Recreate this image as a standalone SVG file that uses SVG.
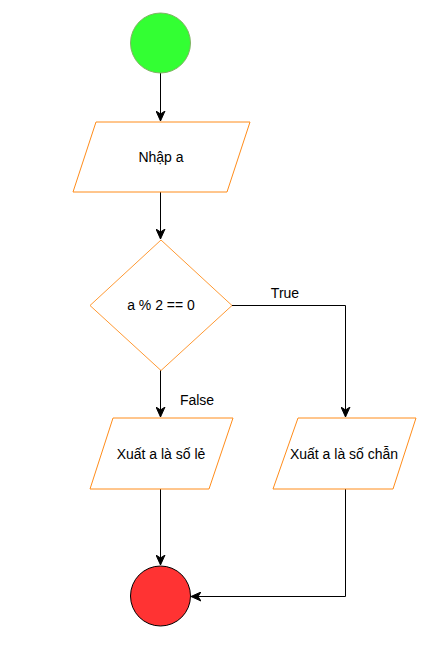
<svg xmlns="http://www.w3.org/2000/svg" width="448" height="648" viewBox="0 0 448 648">
<style>
  .io { fill: #ffffff; stroke: #ff8c1a; stroke-width: 1; }
  .dec { fill: #ffffff; stroke: #ff9933; stroke-width: 1; }
  .lbl { font-family: "Liberation Sans", Arial, sans-serif; font-size: 14px; fill: #000000; text-anchor: middle; dominant-baseline: central; }
  .edge { fill: none; stroke: #000000; stroke-width: 1; marker-end: url(#arr); }
</style>
<defs>
  <marker id="arr" markerUnits="userSpaceOnUse" markerWidth="12" markerHeight="10" refX="10" refY="5" orient="auto">
    <path d="M0,0.5 L10,5 L0,9.5 L3,5 Z" fill="#000000" stroke="#000000" stroke-width="1"/>
  </marker>
</defs>
<rect width="448" height="648" fill="#ffffff"/>
<g id="connectors">
  <path class="edge" d="M160.5,73 L160.5,121"/>
  <path class="edge" d="M160.5,192 L160.5,239"/>
  <path class="edge" d="M232,305.5 L345.5,305.5 L345.5,417"/>
  <path class="edge" d="M160.5,370 L160.5,417"/>
  <path class="edge" d="M160.5,489 L160.5,565"/>
  <path class="edge" d="M345.5,489 L345.5,596.5 L191,596.5"/>
  <text class="lbl" x="285" y="293">True</text>
  <text class="lbl" x="197" y="400">False</text>
</g>
<g id="start">
  <circle cx="160.5" cy="43" r="30" fill="#33ff33" stroke="#82b366" stroke-width="1"/>
</g>
<g id="input">
  <polygon class="io" points="96,122 250,122 227,192 73,192"/>
  <text class="lbl" x="161" y="157">Nhập a</text>
</g>
<g id="decision">
  <polygon class="dec" points="161,240 232,305.5 161,370.5 90,305.5"/>
  <text class="lbl" x="161" y="305">a % 2 == 0</text>
</g>
<g id="odd">
  <polygon class="io" points="113,418 233,418 209,489 90,489"/>
  <text class="lbl" x="161" y="454">Xuất a là số lẻ</text>
</g>
<g id="even">
  <polygon class="io" points="298,418 416,418 393,489 273,489"/>
  <text class="lbl" x="344" y="454">Xuất a là số chẫn</text>
</g>
<g id="end">
  <circle cx="160.5" cy="596" r="30" fill="#ff3333" stroke="#000000" stroke-width="1"/>
</g>
</svg>
